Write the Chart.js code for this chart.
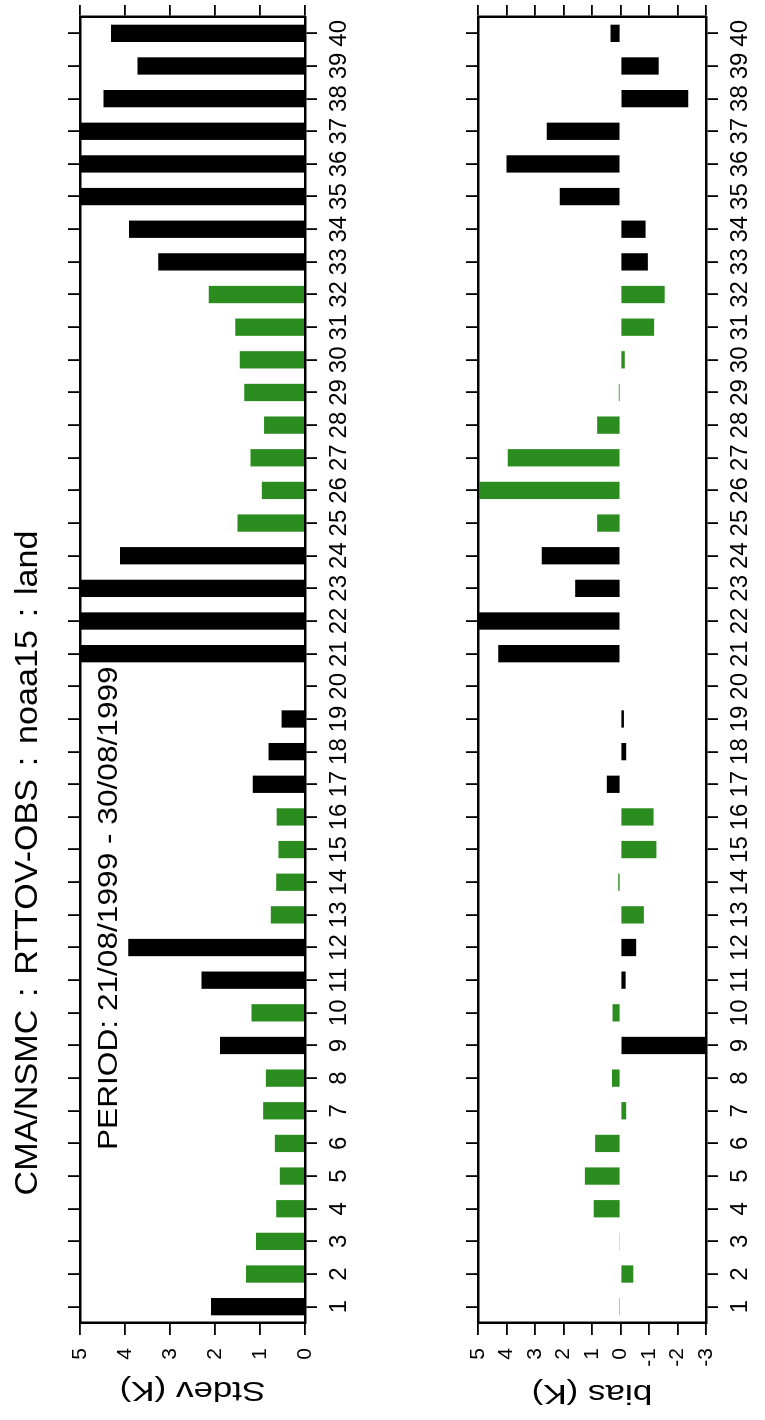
<!DOCTYPE html>
<html lang="en">
<head>
<meta charset="UTF-8">
<title>CMA/NSMC : RTTOV-OBS : noaa15 : land</title>
<script src="https://cdn.jsdelivr.net/npm/chart.js"></script>
<style>
  html, body { margin: 0; padding: 0; background: #fff; overflow: hidden; }
  body { width: 765px; height: 1420px; position: relative; }
  /* the figure is drawn upright (1420 x 765) and turned a quarter turn, like the scan */
  .page {
    position: absolute; left: 0; top: 0;
    width: 1420px; height: 765px;
    transform-origin: 0 0;
    transform: translateY(1420px) rotate(-90deg);
  }
  .page canvas { position: absolute; left: 0; }
  #stdevChart { top: 0; width: 1420px; height: 400px; }
  #biasChart { top: 400px; width: 1420px; height: 365px; }
</style>
</head>
<body>
<div class="page">
  <canvas id="stdevChart" width="1420" height="400"></canvas>
  <canvas id="biasChart" width="1420" height="365"></canvas>
</div>
<script>
// channels on the x axis
const channels = ['1','2','3','4','5','6','7','8','9','10','11','12','13','14','15','16','17','18','19','20',
                  '21','22','23','24','25','26','27','28','29','30','31','32','33','34','35','36','37','38','39','40'];
// channels drawn in green (the rest are black)
const greenChannels = [2,3,4,5,6,7,8,10,13,14,15,16,25,26,27,28,29,30,31,32];

// Stdev (K) per channel; 21-23 and 35-37 run off the top of the axis
const stdev = [2.09, 1.31, 1.09, 0.64, 0.56, 0.67, 0.93, 0.87, 1.89, 1.19,
               2.30, 3.93, 0.76, 0.64, 0.59, 0.63, 1.16, 0.81, 0.52, null,
               5.50, 5.50, 5.50, 4.11, 1.50, 0.96, 1.21, 0.91, 1.35, 1.45,
               1.55, 2.14, 3.26, 3.91, 5.50, 5.50, 5.50, 4.48, 3.72, 4.31];

// bias (K) per channel; 9 and 22 run off the axis
const bias = [0.04, -0.45, 0.04, 0.94, 1.25, 0.89, -0.20, 0.30, -3.50, 0.28,
              -0.18, -0.55, -0.82, 0.08, -1.26, -1.16, 0.48, -0.20, -0.12, null,
              4.29, 5.50, 1.59, 2.76, 0.82, 4.95, 3.96, 0.82, 0.06, -0.15,
              -1.18, -1.55, -0.96, -0.88, 2.13, 4.00, 2.59, -2.38, -1.34, 0.35];

const stdevRange = [0, 5];
const biasRange = [-3, 5];

const GREEN = '#2b8c1f';
const FONT = '"Liberation Sans", Arial, Helvetica, sans-serif';
const barColors = channels.map(c => greenChannels.includes(Number(c)) ? GREEN : '#000');

function drawText(ctx, text, x, y, size, sx, rot, align, baseline, wordSpacing) {
  ctx.save();
  ctx.translate(x, y);
  ctx.rotate(rot);
  ctx.scale(sx, 1);
  ctx.font = size + 'px ' + FONT;
  ctx.fillStyle = '#000';
  ctx.textAlign = align;
  ctx.textBaseline = baseline;
  if (wordSpacing) ctx.wordSpacing = wordSpacing;
  ctx.fillText(text, 0, 0);
  ctx.restore();
}

const tickGrid = {
  display: true, drawOnChartArea: false, drawTicks: true,
  tickLength: 12, lineWidth: 1.8, color: '#000', offset: false
};
const boxBorder = { display: true, color: '#000', width: 2.5, z: 1 };

function makeChart(id, values, range, padTop, bottomH, texts) {
  const ctx = document.getElementById(id).getContext('2d');
  return new Chart(ctx, {
    type: 'bar',
    data: {
      labels: channels,
      datasets: [{
        data: values,
        backgroundColor: barColors,
        borderWidth: 0,
        barPercentage: 0.53,
        categoryPercentage: 1.0,
        xAxisID: 'x',
        yAxisID: 'y'
      }]
    },
    options: {
      responsive: false,
      maintainAspectRatio: false,
      devicePixelRatio: 1,
      animation: false,
      events: [],
      layout: { padding: { top: padTop, right: 5, left: 0, bottom: 0 } },
      plugins: { legend: { display: false }, tooltip: { enabled: false }, title: { display: false } },
      scales: {
        x: {
          type: 'category', position: 'bottom', offset: true,
          grid: tickGrid, border: boxBorder,
          ticks: { color: '#000', font: { family: FONT, size: 24 }, padding: 8,
                   autoSkip: false, maxRotation: 0, minRotation: 0 },
          afterFit: s => { s.height = bottomH; }
        },
        x2: {
          type: 'category', position: 'top', offset: true,
          grid: tickGrid, border: boxBorder,
          ticks: { display: false },
          afterFit: s => { s.height = 12; }
        },
        y: {
          type: 'linear', position: 'left', min: range[0], max: range[1],
          grid: tickGrid, border: boxBorder,
          ticks: { stepSize: 1, color: '#000', font: { family: FONT, size: 21 }, padding: 13 },
          afterFit: s => { s.width = 97; }
        },
        y2: {
          type: 'linear', position: 'right', min: range[0], max: range[1],
          grid: tickGrid, border: boxBorder,
          ticks: { stepSize: 1, display: false },
          afterFit: s => { s.width = 12; }
        }
      }
    },
    plugins: [{
      id: 'figureText',
      afterDatasetsDraw(chart) {
        texts(chart.ctx, chart.chartArea);
      }
    }]
  });
}

makeChart('stdevChart', stdev, stdevRange, 68, 95, (ctx, area) => {
  drawText(ctx, 'CMA/NSMC : RTTOV-OBS : noaa15 : land', 557, 37, 31, 1.1, 0, 'center', 'alphabetic', '3px');
  drawText(ctx, 'PERIOD: 21/08/1999 - 30/08/1999', 270, 117, 28, 1.13, 0, 'left', 'alphabetic');
  drawText(ctx, 'Stdev (K)', 30, (area.top + area.bottom) / 2, 28, 1.25, -Math.PI / 2, 'center', 'middle');
});

makeChart('biasChart', bias, biasRange, 66, 59, (ctx, area) => {
  drawText(ctx, 'bias (K)', 27, (area.top + area.bottom) / 2, 28, 1.25, -Math.PI / 2, 'center', 'middle');
});
</script>
</body>
</html>
